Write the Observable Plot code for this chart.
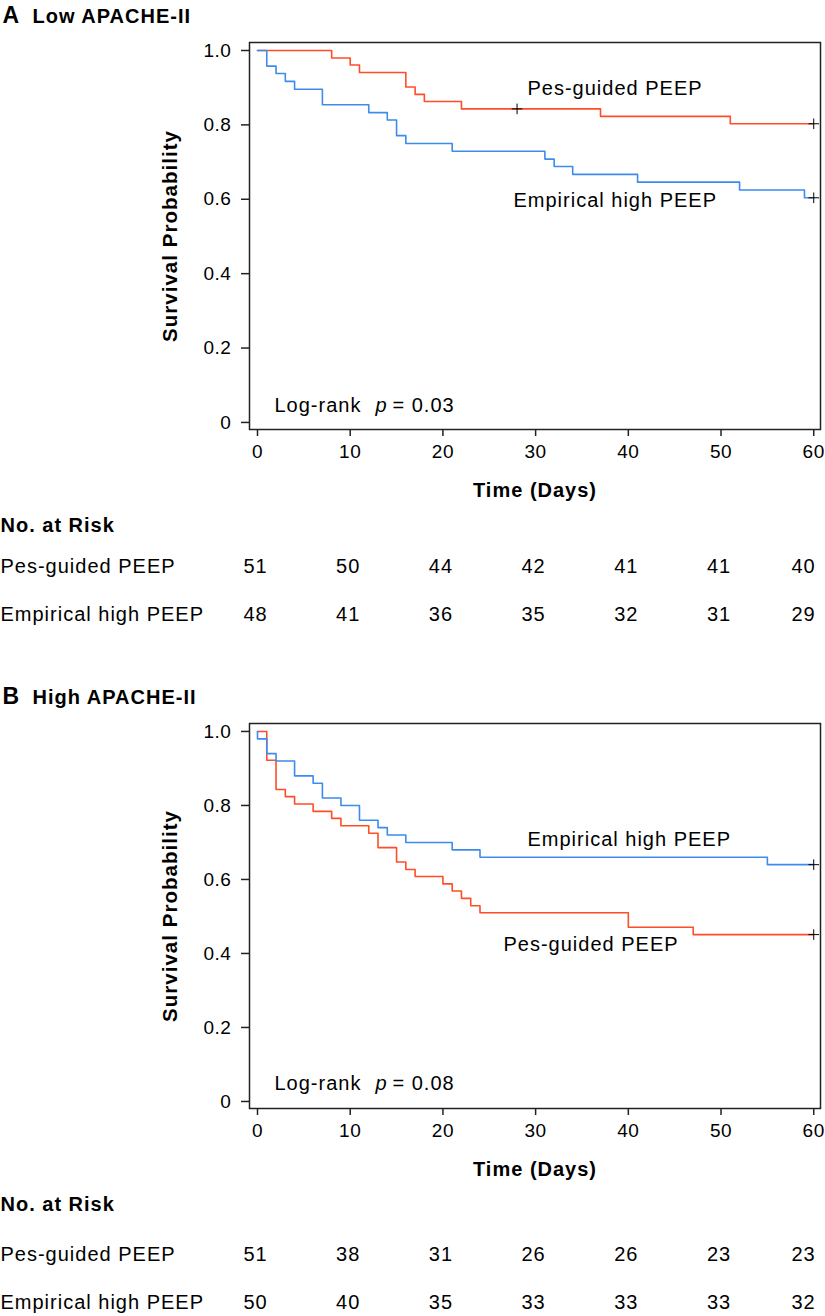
<!DOCTYPE html>
<html>
<head>
<meta charset="utf-8">
<script src="https://cdn.jsdelivr.net/npm/d3@7"></script>
<script src="https://cdn.jsdelivr.net/npm/@observablehq/plot@0.6"></script>
<style>
  html, body { margin: 0; padding: 0; background: #fff; }
  #chart { width: 825px; }
  #chart svg { display: block; }
  #chart svg text { letter-spacing: 0.05em; }
</style>
</head>
<body>
<div id="chart"></div>
<script>
// ---------- data ----------
const riskDays = [0, 10, 20, 30, 40, 50, 60];
const groups = ["Pes-guided PEEP", "Empirical high PEEP"];

// Panel A: Low APACHE-II
const timesA_pes = [0, 8, 10, 11, 16, 17, 18, 22, 37, 51, 60];
const survA_pes  = [1, 0.980, 0.961, 0.941, 0.902, 0.882, 0.863, 0.843, 0.823, 0.803, 0.803];
const timesA_emp = [0, 1, 2, 3, 4, 7, 12, 14, 15, 16, 21, 31, 32, 34, 41, 52, 59, 60];
const survA_emp  = [1, 0.958, 0.938, 0.917, 0.896, 0.854, 0.833, 0.813, 0.771, 0.750, 0.729, 0.708, 0.688, 0.667, 0.646, 0.625, 0.604, 0.604];
const censorA_pes = [28, 60];
const censorA_emp = [60];
const riskA_pes = [51, 50, 44, 42, 41, 41, 40];
const riskA_emp = [48, 41, 36, 35, 32, 31, 29];

// Panel B: High APACHE-II
const timesB_pes = [0, 1, 2, 3, 4, 6, 8, 9, 12, 13, 15, 16, 17, 20, 21, 22, 23, 24, 40, 47, 60];
const survB_pes  = [1, 0.922, 0.843, 0.824, 0.804, 0.784, 0.765, 0.745, 0.725, 0.686, 0.647, 0.627, 0.608, 0.588, 0.569, 0.549, 0.529, 0.510, 0.471, 0.451, 0.451];
const timesB_emp = [0, 0, 1, 2, 4, 6, 7, 9, 11, 13, 14, 16, 21, 24, 55, 60];
const survB_emp  = [1, 0.98, 0.94, 0.92, 0.88, 0.86, 0.82, 0.80, 0.76, 0.74, 0.72, 0.70, 0.68, 0.66, 0.64, 0.64];
const censorB_pes = [60];
const censorB_emp = [60];
const riskB_pes = [51, 38, 31, 26, 26, 23, 23];
const riskB_emp = [50, 40, 35, 33, 33, 33, 32];

const yTicks = [0, 0.2, 0.4, 0.6, 0.8, 1.0];
const xTicks = [0, 10, 20, 30, 40, 50, 60];

// ---------- styling ----------
const RED = "#ff4d29";
const BLUE = "#3d8ced";
const FONT = "'Liberation Sans', Arial, Helvetica, sans-serif";
const TICK_FONT = "19px";

function curve(times, surv) { return times.map((t, i) => ({t, s: surv[i]})); }
function survAt(times, surv, t) {
  let v = surv[0];
  for (let i = 0; i < times.length; i++) if (times[i] <= t) v = surv[i];
  return v;
}
function censors(ts, times, surv) { return ts.map(t => ({t, s: survAt(times, surv, t)})); }
function riskRows(counts) { return riskDays.map((d, i) => ({d, n: counts[i]})); }

function panel(cfg) {
  const pes = curve(cfg.tPes, cfg.sPes);
  const emp = curve(cfg.tEmp, cfg.sEmp);
  const cens = [...censors(cfg.cPes, cfg.tPes, cfg.sPes), ...censors(cfg.cEmp, cfg.tEmp, cfg.sEmp)];
  const rp = riskRows(cfg.rPes), re = riskRows(cfg.rEmp);
  const txt = (s, o) => Plot.text([s], {text: d => d, lineAnchor: "middle", fill: "#000", ...o});
  const svg = Plot.plot({
    width: 825,
    height: cfg.height,
    marginTop: cfg.marginTop,
    marginLeft: 249,
    marginRight: 5,
    marginBottom: cfg.height - cfg.marginTop - cfg.frameH,
    style: {fontFamily: FONT, fontSize: TICK_FONT, color: "#000", background: "#fff"},
    x: {domain: [-0.863, 60.73], ticks: xTicks, label: null},
    y: {domain: [-0.019, 1.0215], ticks: yTicks, label: null},
    marks: [
      Plot.frame({stroke: "#222", strokeWidth: 1.5}),
      Plot.axisY({ticks: yTicks, tickSize: 8, tickPadding: 10, stroke: "#222", strokeWidth: 1.5,
        tickFormat: d => d === 0 ? "0" : d.toFixed(1), label: null, ariaLabel: "y-axis"}),
      Plot.axisX({ticks: xTicks, tickSize: 7, tickPadding: 8, stroke: "#222", strokeWidth: 1.5, label: null, ariaLabel: "x-axis"}),
      Plot.line(pes, {x: "t", y: "s", curve: "step-after", stroke: RED, strokeWidth: 1.6}),
      Plot.line(emp, {x: "t", y: "s", curve: "step-after", stroke: BLUE, strokeWidth: 1.6}),
      Plot.dot(cens, {x: "t", y: "s", symbol: "plus", r: 3.5, stroke: "#000", strokeWidth: 1}),
      // panel header
      txt(cfg.letter, {frameAnchor: "top-left", dx: -247, dy: -27, textAnchor: "start", fontWeight: "bold", fontSize: 23}),
      txt(cfg.title, {frameAnchor: "top-left", dx: -217, dy: -26, textAnchor: "start", fontWeight: "bold", fontSize: 20}),
      // axis titles
      txt("Survival Probability", {frameAnchor: "left", dx: -79, rotate: -90, textAnchor: "middle", fontWeight: "bold", fontSize: 20.5}),
      txt("Time (Days)", {frameAnchor: "bottom", dy: 61, textAnchor: "middle", fontWeight: "bold", fontSize: 20}),
      // curve labels
      txt(groups[0], {frameAnchor: "top-left", dx: cfg.pesLab[0], dy: cfg.pesLab[1], textAnchor: "start", fontSize: 20}),
      txt(groups[1], {frameAnchor: "top-left", dx: cfg.empLab[0], dy: cfg.empLab[1], textAnchor: "start", fontSize: 20}),
      // log-rank
      txt("Log-rank", {frameAnchor: "bottom-left", dx: 25, dy: cfg.lrDy, textAnchor: "start", fontSize: 20}),
      txt("p", {frameAnchor: "bottom-left", dx: 126, dy: cfg.lrDy, textAnchor: "start", fontSize: 20, fontStyle: "italic"}),
      txt("= " + cfg.pval, {frameAnchor: "bottom-left", dx: 143, dy: cfg.lrDy, textAnchor: "start", fontSize: 20}),
      // at-risk table
      txt("No. at Risk", {frameAnchor: "bottom-left", dx: -249, dy: cfg.riskDy[0], textAnchor: "start", fontWeight: "bold", fontSize: 20}),
      txt(groups[0], {frameAnchor: "bottom-left", dx: -249, dy: cfg.riskDy[1], textAnchor: "start", fontSize: 20}),
      txt(groups[1], {frameAnchor: "bottom-left", dx: -249, dy: cfg.riskDy[2], textAnchor: "start", fontSize: 20}),
      Plot.text(rp.filter(r => r.d < 60), {x: "d", text: "n", frameAnchor: "bottom", dy: cfg.riskDy[1], dx: -2, textAnchor: "middle", lineAnchor: "middle", fontSize: 20, fill: "#000"}),
      Plot.text(re.filter(r => r.d < 60), {x: "d", text: "n", frameAnchor: "bottom", dy: cfg.riskDy[2], dx: -2, textAnchor: "middle", lineAnchor: "middle", fontSize: 20, fill: "#000"}),
      Plot.text(rp.filter(r => r.d === 60), {x: "d", text: "n", frameAnchor: "bottom", dy: cfg.riskDy[1], dx: 2, textAnchor: "end", lineAnchor: "middle", fontSize: 20, fill: "#000"}),
      Plot.text(re.filter(r => r.d === 60), {x: "d", text: "n", frameAnchor: "bottom", dy: cfg.riskDy[2], dx: 2, textAnchor: "end", lineAnchor: "middle", fontSize: 20, fill: "#000"})
    ]
  });
  // make sure the axis tick labels use the intended size
  d3.select(svg).selectAll('g[aria-label^="x-axis"] text, g[aria-label^="y-axis"] text')
    .style("font-size", TICK_FONT).style("letter-spacing", "0.03em");
  return svg;
}

const chart = document.getElementById("chart");
chart.append(panel({
  letter: "A", title: "Low APACHE-II", pval: "0.03",
  height: 660, marginTop: 42, frameH: 387,
  tPes: timesA_pes, sPes: survA_pes, tEmp: timesA_emp, sEmp: survA_emp,
  cPes: censorA_pes, cEmp: censorA_emp, rPes: riskA_pes, rEmp: riskA_emp,
  pesLab: [278, 46], empLab: [264, 158], lrDy: -24, riskDy: [96, 137, 185]
}));
chart.append(panel({
  letter: "B", title: "High APACHE-II", pval: "0.08",
  height: 656, marginTop: 63, frameH: 385,
  tPes: timesB_pes, sPes: survB_pes, tEmp: timesB_emp, sEmp: survB_emp,
  cPes: censorB_pes, cEmp: censorB_emp, rPes: riskB_pes, rEmp: riskB_emp,
  pesLab: [254, 221], empLab: [278, 116], lrDy: -25, riskDy: [96, 146, 194]
}));
</script>
</body>
</html>
